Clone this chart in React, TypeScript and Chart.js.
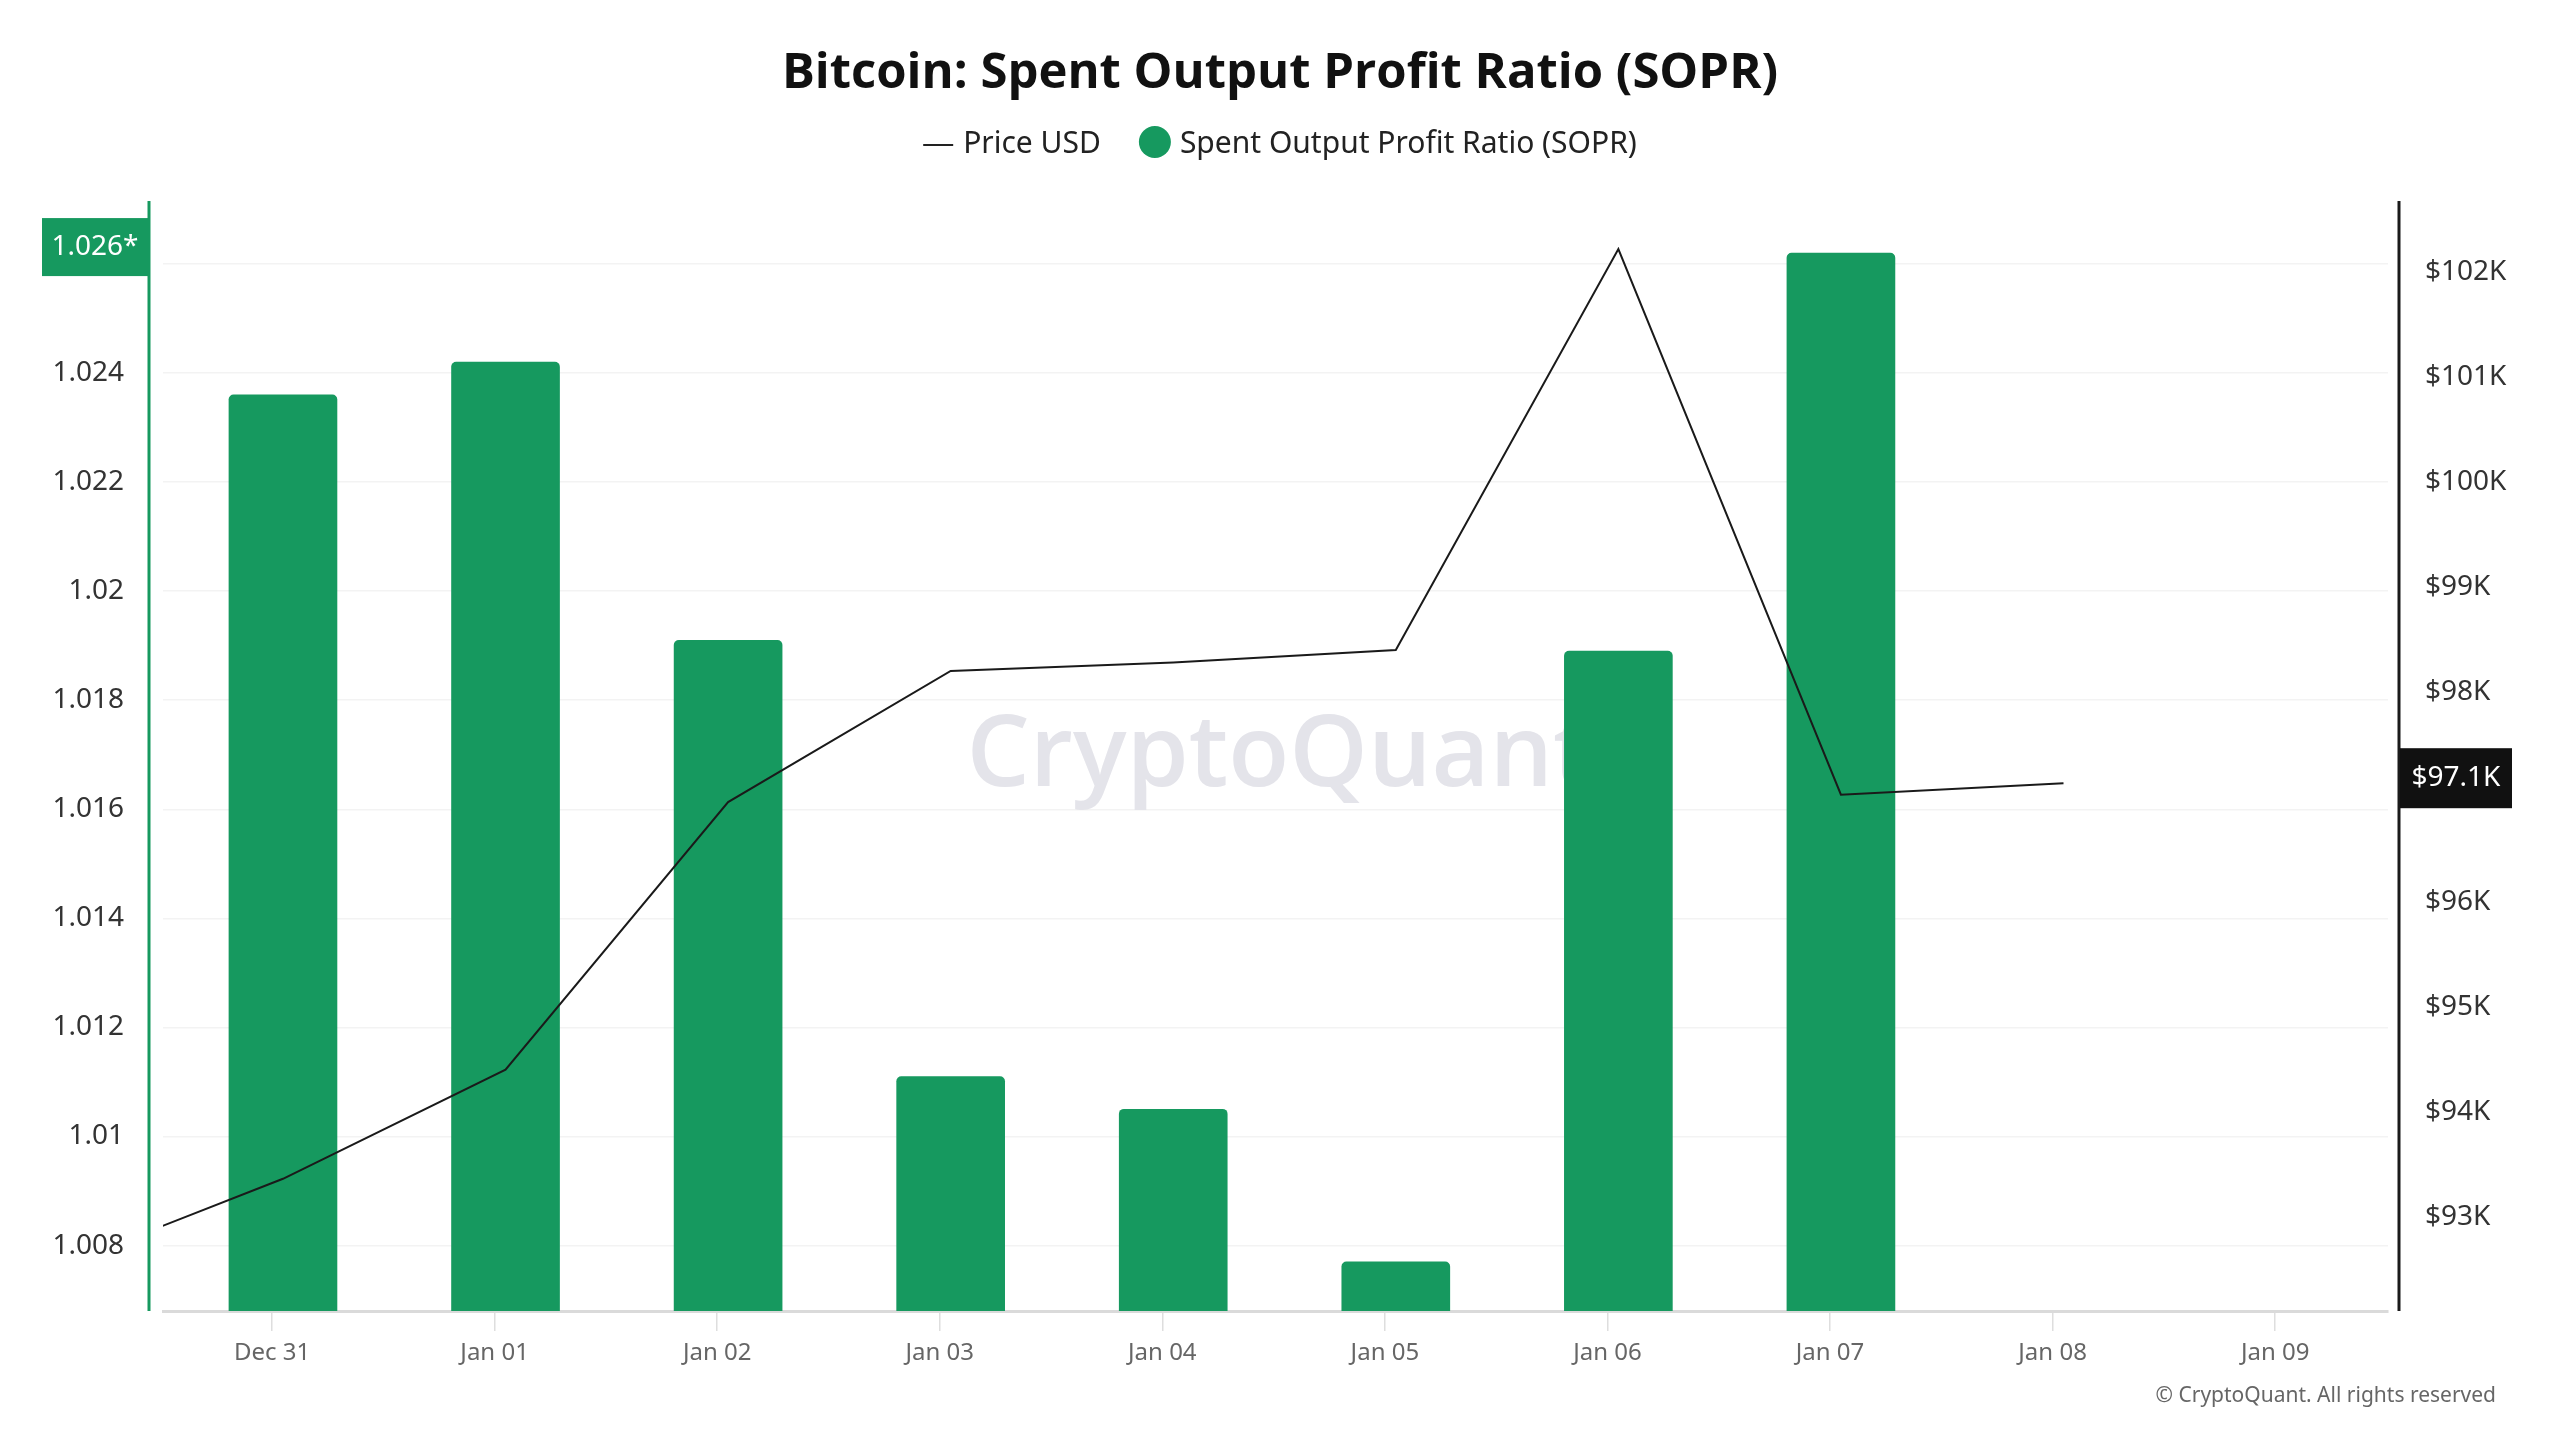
import React, { useEffect, useRef } from "react";
import { Chart, registerables } from "chart.js";

Chart.register(...registerables);

const dayLabels = ["Dec 31", "Jan 01", "Jan 02", "Jan 03", "Jan 04", "Jan 05", "Jan 06", "Jan 07", "Jan 08", "Jan 09"];
const soprValues = [1.0236, 1.0242, 1.0191, 1.0111, 1.0105, 1.0077, 1.0189, 1.0262];
// price series begins one day earlier (Dec 30), partly outside the visible range
const priceStartIndex = -1;
const priceValues = [92530, 93360, 94400, 96950, 98200, 98280, 98400, 102220, 97020, 97130];
const leftTicks = [1.008, 1.01, 1.012, 1.014, 1.016, 1.018, 1.02, 1.022, 1.024, 1.026];
const rightTicks = [93000, 94000, 95000, 96000, 97000, 98000, 99000, 100000, 101000, 102000];
// date ticks sit about one hour before the daily data points
const tickShift = -0.049;

const GREEN = "#16995f";
const FONT = "'Noto Sans', 'Open Sans', sans-serif";

const overlayPlugin = {
  id: "overlay",
  beforeDatasetsDraw(chart: any) {
    const { ctx, chartArea } = chart;
    ctx.save();
    ctx.font = `600 100px 'Open Sans', 'Noto Sans', sans-serif`;
    ctx.fillStyle = "#e4e4ea";
    ctx.textAlign = "center";
    ctx.textBaseline = "middle";
    ctx.fillText("CryptoQuant", (chartArea.left + chartArea.right) / 2 + 4, 758);
    ctx.restore();
  },
  afterDraw(chart: any) {
    const { ctx, chartArea, scales } = chart;
    ctx.save();
    // Title
    ctx.fillStyle = "#111";
    ctx.font = `bold 49px 'Open Sans', 'Noto Sans', sans-serif`;
    ctx.textAlign = "center";
    ctx.textBaseline = "middle";
    ctx.fillText("Bitcoin: Spent Output Profit Ratio (SOPR)", 1280, 74);

    // Legend
    ctx.font = `30px ${FONT}`;
    const t1 = "Price USD";
    const t2 = "Spent Output Profit Ratio (SOPR)";
    const w1 = ctx.measureText(t1).width;
    const w2 = ctx.measureText(t2).width;
    const lineW = 30, gap1 = 10, gapMid = 38, circD = 32, gap2 = 9;
    const total = lineW + gap1 + w1 + gapMid + circD + gap2 + w2;
    let x = 1280 - total / 2;
    const ly = 144;
    ctx.strokeStyle = "#222";
    ctx.lineWidth = 2;
    ctx.beginPath();
    ctx.moveTo(x, ly + 1);
    ctx.lineTo(x + lineW, ly + 1);
    ctx.stroke();
    x += lineW + gap1;
    ctx.fillStyle = "#222";
    ctx.textAlign = "left";
    ctx.fillText(t1, x, ly);
    x += w1 + gapMid;
    ctx.fillStyle = GREEN;
    ctx.beginPath();
    ctx.arc(x + circD / 2, ly - 2, circD / 2, 0, Math.PI * 2);
    ctx.fill();
    x += circD + gap2;
    ctx.fillStyle = "#222";
    ctx.fillText(t2, x, ly);

    // Axis lines
    ctx.lineWidth = 3;
    ctx.strokeStyle = GREEN;
    ctx.beginPath();
    ctx.moveTo(149, chartArea.top - 3);
    ctx.lineTo(149, chartArea.bottom);
    ctx.stroke();
    ctx.strokeStyle = "#1a1a1a";
    ctx.beginPath();
    ctx.moveTo(2399, chartArea.top - 3);
    ctx.lineTo(2399, chartArea.bottom);
    ctx.stroke();

    // Last value boxes
    const lastSopr = soprValues[soprValues.length - 1];
    const ys = scales.y.getPixelForValue(lastSopr) - 6;
    ctx.fillStyle = GREEN;
    ctx.fillRect(42, ys - 29, 107, 58);
    ctx.fillStyle = "#fff";
    ctx.font = `28px ${FONT}`;
    ctx.textAlign = "center";
    ctx.fillText(lastSopr.toFixed(3) + "*", 95, ys);

    const lastPrice = priceValues[priceValues.length - 1];
    const yp = scales.y1.getPixelForValue(lastPrice) - 5;
    ctx.fillStyle = "#111";
    ctx.fillRect(2400, yp - 30, 112, 60);
    ctx.fillStyle = "#fff";
    ctx.fillText("$" + (lastPrice / 1000).toFixed(1) + "K", 2456, yp);

    // Copyright
    ctx.fillStyle = "#666";
    ctx.font = `21px ${FONT}`;
    ctx.textAlign = "right";
    ctx.fillText("© CryptoQuant. All rights reserved", 2496, 1396);
    ctx.restore();
  },
};

export default function App() {
  const canvasRef = useRef<HTMLCanvasElement | null>(null);

  useEffect(() => {
    const canvas = canvasRef.current;
    if (!canvas) return;
    const lastPrice = priceValues[priceValues.length - 1];
    const chart = new Chart(canvas, {
      type: "bar",
      data: {
        datasets: [
          {
            type: "line",
            label: "Price USD",
            data: priceValues.map((v, i) => ({ x: i + priceStartIndex, y: v })),
            borderColor: "#1a1a1a",
            borderWidth: 2,
            pointRadius: 0,
            tension: 0,
            yAxisID: "y1",
            order: 0,
          } as any,
          {
            type: "bar",
            label: "Spent Output Profit Ratio (SOPR)",
            data: soprValues.map((v, i) => ({ x: i, y: v })),
            backgroundColor: GREEN,
            barThickness: 108,
            borderRadius: { topLeft: 5, topRight: 5, bottomLeft: 0, bottomRight: 0 },
            borderSkipped: "bottom",
            yAxisID: "y",
            order: 1,
          } as any,
        ],
      },
      options: {
        animation: false,
        responsive: false,
        maintainAspectRatio: false,
        layout: { padding: { top: 204, left: 0, right: 0, bottom: 0 } },
        plugins: {
          legend: { display: false },
          title: { display: false },
          tooltip: { enabled: false },
        },
        scales: {
          x: {
            type: "linear",
            offset: false,
            min: -0.539,
            max: 9.458,
            afterBuildTicks: (scale: any) => {
              scale.ticks = dayLabels.map((_, i) => ({ value: i + tickShift }));
            },
            afterFit: (scale: any) => {
              scale.height = 129;
            },
            ticks: {
              callback: (v: any) => dayLabels[Math.round(Number(v) - tickShift)] ?? "",
              color: "#666",
              font: { family: FONT, size: 24 },
              padding: 8,
              maxRotation: 0,
              autoSkip: false,
            },
            grid: {
              offset: false,
              drawOnChartArea: false,
              drawTicks: true,
              tickLength: 20,
              color: "#dedede",
              lineWidth: 1.5,
            },
            border: { display: true, color: "#dadada", width: 3 },
          },
          y: {
            type: "linear",
            position: "left",
            min: 1.0068,
            max: 1.0271,
            afterBuildTicks: (scale: any) => {
              scale.ticks = leftTicks.map((v) => ({ value: v }));
            },
            afterFit: (scale: any) => {
              scale.width = 163;
            },
            ticks: {
              callback: (v: any) => String(Number(Number(v).toFixed(3))),
              color: "#333",
              font: { family: FONT, size: 28 },
              padding: 39,
            },
            grid: { color: "#f3f3f3", lineWidth: 1.5, drawTicks: false },
            border: { display: false },
          },
          y1: {
            type: "linear",
            position: "right",
            min: 92100,
            max: 102650,
            afterBuildTicks: (scale: any) => {
              scale.ticks = rightTicks.map((v) => ({ value: v }));
            },
            afterFit: (scale: any) => {
              scale.width = 172;
            },
            ticks: {
              callback: (v: any) =>
                Math.abs(Number(v) - lastPrice) < 500 ? "" : "$" + Math.round(Number(v) / 1000) + "K",
              color: "#333",
              font: { family: FONT, size: 28 },
              padding: 37,
            },
            grid: { drawOnChartArea: false, drawTicks: false },
            border: { display: false },
          },
        },
      } as any,
      plugins: [overlayPlugin],
    });
    return () => chart.destroy();
  }, []);

  return (
    <div style={{ position: "fixed", left: 0, top: 0, width: 2560, height: 1440, background: "#fff" }}>
      <canvas ref={canvasRef} width={2560} height={1440} style={{ width: 2560, height: 1440 }} />
    </div>
  );
}
